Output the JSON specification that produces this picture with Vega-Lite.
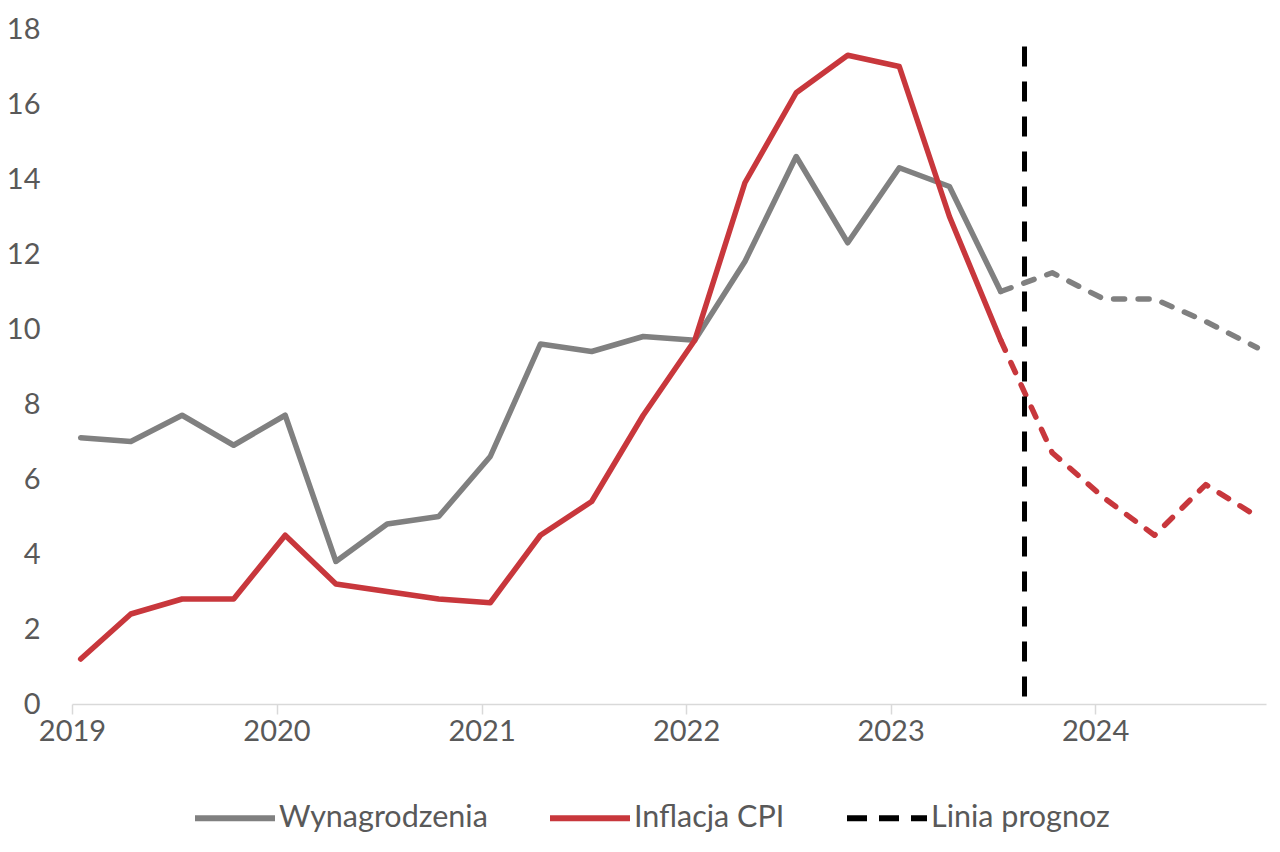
{
  "$schema": "https://vega.github.io/schema/vega-lite/v6.json",
  "width": 1194,
  "height": 675,
  "autosize": {"type": "none"},
  "padding": {"left": 72, "top": 29, "right": 14, "bottom": 148},
  "background": "white",
  "config": {"view": {"stroke": null}, "font": "Lato", "axis": {"grid": false}},
  "datasets": {
    "series": [
      {"date": "2019-01-01", "series": "Wynagrodzenia", "part": "actual", "value": 7.1},
      {"date": "2019-04-01", "series": "Wynagrodzenia", "part": "actual", "value": 7.0},
      {"date": "2019-07-01", "series": "Wynagrodzenia", "part": "actual", "value": 7.7},
      {"date": "2019-10-01", "series": "Wynagrodzenia", "part": "actual", "value": 6.9},
      {"date": "2020-01-01", "series": "Wynagrodzenia", "part": "actual", "value": 7.7},
      {"date": "2020-04-01", "series": "Wynagrodzenia", "part": "actual", "value": 3.8},
      {"date": "2020-07-01", "series": "Wynagrodzenia", "part": "actual", "value": 4.8},
      {"date": "2020-10-01", "series": "Wynagrodzenia", "part": "actual", "value": 5.0},
      {"date": "2021-01-01", "series": "Wynagrodzenia", "part": "actual", "value": 6.6},
      {"date": "2021-04-01", "series": "Wynagrodzenia", "part": "actual", "value": 9.6},
      {"date": "2021-07-01", "series": "Wynagrodzenia", "part": "actual", "value": 9.4},
      {"date": "2021-10-01", "series": "Wynagrodzenia", "part": "actual", "value": 9.8},
      {"date": "2022-01-01", "series": "Wynagrodzenia", "part": "actual", "value": 9.7},
      {"date": "2022-04-01", "series": "Wynagrodzenia", "part": "actual", "value": 11.8},
      {"date": "2022-07-01", "series": "Wynagrodzenia", "part": "actual", "value": 14.6},
      {"date": "2022-10-01", "series": "Wynagrodzenia", "part": "actual", "value": 12.3},
      {"date": "2023-01-01", "series": "Wynagrodzenia", "part": "actual", "value": 14.3},
      {"date": "2023-04-01", "series": "Wynagrodzenia", "part": "actual", "value": 13.8},
      {"date": "2023-07-01", "series": "Wynagrodzenia", "part": "actual", "value": 11.0},
      {"date": "2023-07-01", "series": "Wynagrodzenia", "part": "forecast", "value": 11.0},
      {"date": "2023-10-01", "series": "Wynagrodzenia", "part": "forecast", "value": 11.5},
      {"date": "2024-01-01", "series": "Wynagrodzenia", "part": "forecast", "value": 10.8},
      {"date": "2024-04-01", "series": "Wynagrodzenia", "part": "forecast", "value": 10.8},
      {"date": "2024-07-01", "series": "Wynagrodzenia", "part": "forecast", "value": 10.2},
      {"date": "2024-10-01", "series": "Wynagrodzenia", "part": "forecast", "value": 9.5},
      {"date": "2019-01-01", "series": "Inflacja CPI", "part": "actual", "value": 1.2},
      {"date": "2019-04-01", "series": "Inflacja CPI", "part": "actual", "value": 2.4},
      {"date": "2019-07-01", "series": "Inflacja CPI", "part": "actual", "value": 2.8},
      {"date": "2019-10-01", "series": "Inflacja CPI", "part": "actual", "value": 2.8},
      {"date": "2020-01-01", "series": "Inflacja CPI", "part": "actual", "value": 4.5},
      {"date": "2020-04-01", "series": "Inflacja CPI", "part": "actual", "value": 3.2},
      {"date": "2020-07-01", "series": "Inflacja CPI", "part": "actual", "value": 3.0},
      {"date": "2020-10-01", "series": "Inflacja CPI", "part": "actual", "value": 2.8},
      {"date": "2021-01-01", "series": "Inflacja CPI", "part": "actual", "value": 2.7},
      {"date": "2021-04-01", "series": "Inflacja CPI", "part": "actual", "value": 4.5},
      {"date": "2021-07-01", "series": "Inflacja CPI", "part": "actual", "value": 5.4},
      {"date": "2021-10-01", "series": "Inflacja CPI", "part": "actual", "value": 7.7},
      {"date": "2022-01-01", "series": "Inflacja CPI", "part": "actual", "value": 9.7},
      {"date": "2022-04-01", "series": "Inflacja CPI", "part": "actual", "value": 13.9},
      {"date": "2022-07-01", "series": "Inflacja CPI", "part": "actual", "value": 16.3},
      {"date": "2022-10-01", "series": "Inflacja CPI", "part": "actual", "value": 17.3},
      {"date": "2023-01-01", "series": "Inflacja CPI", "part": "actual", "value": 17.0},
      {"date": "2023-04-01", "series": "Inflacja CPI", "part": "actual", "value": 13.0},
      {"date": "2023-07-01", "series": "Inflacja CPI", "part": "actual", "value": 9.7},
      {"date": "2023-07-01", "series": "Inflacja CPI", "part": "forecast", "value": 9.7},
      {"date": "2023-10-01", "series": "Inflacja CPI", "part": "forecast", "value": 6.7},
      {"date": "2024-01-01", "series": "Inflacja CPI", "part": "forecast", "value": 5.5},
      {"date": "2024-04-01", "series": "Inflacja CPI", "part": "forecast", "value": 4.5},
      {"date": "2024-07-01", "series": "Inflacja CPI", "part": "forecast", "value": 5.85},
      {"date": "2024-10-01", "series": "Inflacja CPI", "part": "forecast", "value": 5.0}
    ],
    "forecastLine": [
      {"date": "2023-08-28", "label": "Linia prognoz", "from": 0.2, "to": 17.6}
    ]
  },
  "layer": [
    {
      "data": {"name": "series"},
      "transform": [{"filter": "datum.part === 'actual'"}],
      "mark": {"type": "line", "strokeWidth": 5.5, "strokeCap": "round", "strokeJoin": "round"},
      "encoding": {
        "x": {
          "field": "date", "type": "temporal", "timeUnit": "utcyearmonth", "bandPosition": 0.5,
          "scale": {"type": "utc", "domain": [{"year": 2019, "month": 1, "date": 1, "utc": true}, {"year": 2024, "month": 11, "date": 1, "utc": true}]},
          "axis": {
            "title": null, "labelExpr": "utcFormat(datum.value, '%Y')",
            "values": [
              {"year": 2019, "month": 1, "date": 1, "utc": true},
              {"year": 2020, "month": 1, "date": 1, "utc": true},
              {"year": 2021, "month": 1, "date": 1, "utc": true},
              {"year": 2022, "month": 1, "date": 1, "utc": true},
              {"year": 2023, "month": 1, "date": 1, "utc": true},
              {"year": 2024, "month": 1, "date": 1, "utc": true}
            ],
            "domainColor": "#d9d9d9", "domainWidth": 1.5, "tickColor": "#d9d9d9", "tickWidth": 1.5, "tickSize": 10,
            "labelFontSize": 29, "labelColor": "#595959", "labelPadding": 3, "labelFont": "Lato",
            "labelFlush": false, "labelOverlap": false
          }
        },
        "y": {
          "field": "value", "type": "quantitative",
          "scale": {"domain": [0, 18], "nice": false},
          "axis": {
            "title": null, "values": [0, 2, 4, 6, 8, 10, 12, 14, 16, 18],
            "domain": false, "ticks": false, "labelPadding": 32,
            "labelFontSize": 29, "labelColor": "#595959", "labelFont": "Lato"
          }
        },
        "color": {
          "field": "series", "type": "nominal",
          "scale": {"domain": ["Wynagrodzenia", "Inflacja CPI", "Linia prognoz"], "range": ["#808080", "#c8373c", "#000000"]},
          "legend": {
            "orient": "none", "legendX": 120, "legendY": 746, "direction": "horizontal", "columns": 3,
            "title": null, "symbolType": "stroke", "symbolSize": 6400, "symbolStrokeWidth": 6,
            "labelFontSize": 30.5, "labelColor": "#595959", "labelFont": "Lato", "labelOffset": 1,
            "columnPadding": 50, "labelLimit": 400,
            "encode": {"symbols": {"update": {"strokeDash": {"signal": "datum.value === 'Linia prognoz' ? [20, 12] : []"}}}}
          }
        }
      }
    },
    {
      "data": {"name": "series"},
      "transform": [{"filter": "datum.part === 'forecast'"}],
      "mark": {"type": "line", "strokeWidth": 5.5, "strokeCap": "round", "strokeJoin": "round", "strokeDash": [11, 13.5]},
      "encoding": {
        "x": {"field": "date", "type": "temporal", "timeUnit": "utcyearmonth", "bandPosition": 0.5},
        "y": {"field": "value", "type": "quantitative"},
        "color": {"field": "series", "type": "nominal"}
      }
    },
    {
      "data": {"name": "forecastLine"},
      "mark": {"type": "rule", "strokeWidth": 5, "strokeDash": [20, 15]},
      "encoding": {
        "x": {"field": "date", "type": "temporal"},
        "y": {"field": "from", "type": "quantitative"},
        "y2": {"field": "to"},
        "color": {"field": "label", "type": "nominal"}
      }
    }
  ]
}
